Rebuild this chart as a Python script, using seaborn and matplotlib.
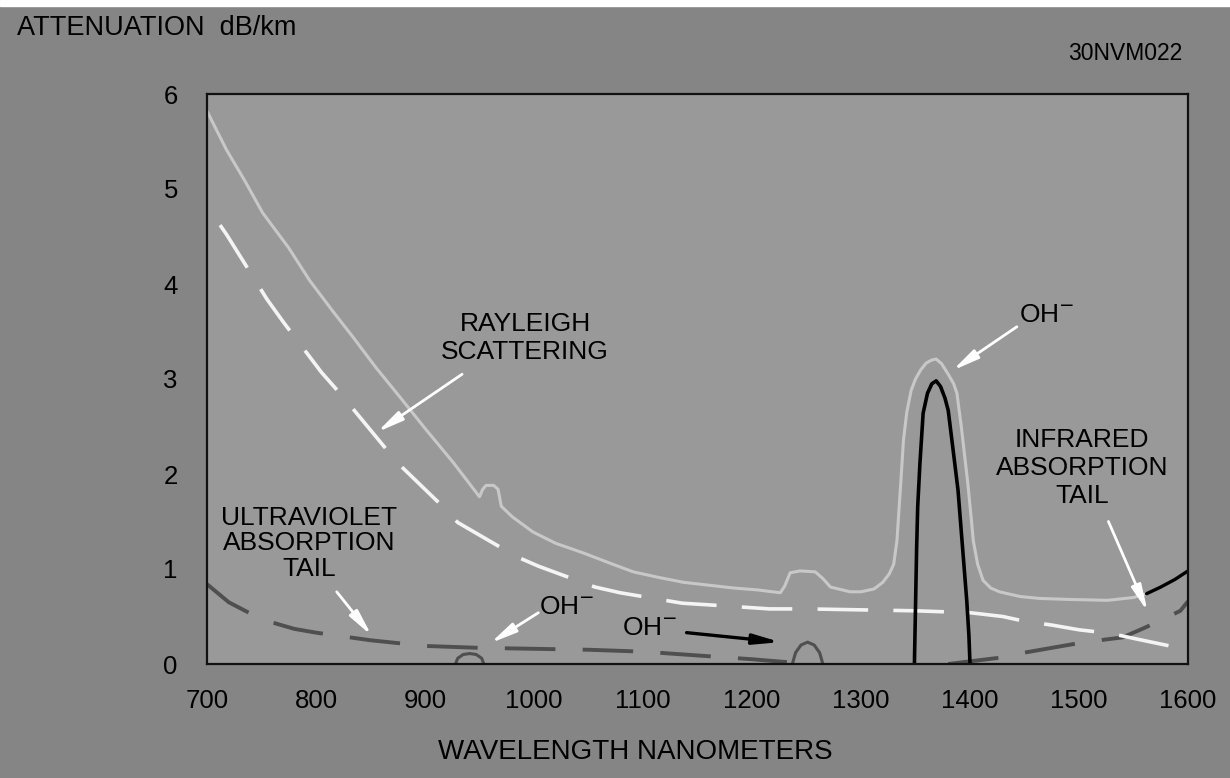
import numpy as np
import pandas as pd
import matplotlib
matplotlib.use("Agg")
import matplotlib.pyplot as plt
import seaborn as sns

# values (wavelength nm, attenuation dB/km)
total_wl = [700, 718, 735, 751, 775, 794, 815, 834, 855, 877, 900, 926, 950, 953,
            956, 963, 967, 970, 980, 999, 1020, 1045, 1070, 1091, 1115, 1137, 1160,
            1183, 1205, 1226, 1230, 1235, 1244, 1258, 1265, 1272, 1290, 1300, 1312,
            1320, 1326, 1330, 1333, 1335, 1337, 1339, 1342, 1346, 1350, 1355, 1360,
            1365, 1369, 1374, 1380, 1385, 1388, 1392, 1395, 1398, 1401, 1403, 1407,
            1412, 1419, 1427, 1446, 1464, 1490, 1526, 1550, 1562]
total_db = [5.82, 5.41, 5.08, 4.75, 4.38, 4.04, 3.72, 3.44, 3.12, 2.81, 2.48, 2.12, 1.76, 1.84,
            1.88, 1.88, 1.84, 1.66, 1.55, 1.39, 1.27, 1.17, 1.06, 0.97, 0.91, 0.86, 0.83,
            0.80, 0.78, 0.75, 0.82, 0.96, 0.98, 0.97, 0.90, 0.81, 0.76, 0.76, 0.79,
            0.86, 0.95, 1.05, 1.30, 1.65, 2.00, 2.36, 2.65, 2.88, 3.00, 3.10, 3.17,
            3.20, 3.21, 3.16, 3.05, 2.95, 2.85, 2.50, 2.20, 1.90, 1.55, 1.30, 1.05,
            0.88, 0.80, 0.76, 0.71, 0.69, 0.68, 0.67, 0.70, 0.74]

ir_end_wl = [1562, 1575, 1588, 1600]
ir_end_db = [0.74, 0.81, 0.89, 0.98]

rayleigh_wl = [712, 718, 755, 770, 805, 825, 866, 880, 917, 930, 984, 1004, 1056, 1079,
               1136, 1164, 1216, 1250, 1300, 1350, 1400, 1430, 1450, 1475, 1500, 1530,
               1550, 1575, 1600]
rayleigh_db = [4.62, 4.52, 3.84, 3.60, 3.07, 2.81, 2.24, 2.06, 1.65, 1.49, 1.13, 1.03, 0.81, 0.75,
               0.64, 0.62, 0.58, 0.58, 0.57, 0.56, 0.54, 0.50, 0.45, 0.41, 0.36, 0.32,
               0.27, 0.21, 0.15]

uv_wl = [700, 720, 750, 780, 800, 850, 900, 950, 1000, 1050, 1100, 1150, 1200, 1232]
uv_db = [0.84, 0.65, 0.47, 0.37, 0.33, 0.25, 0.19, 0.17, 0.16, 0.15, 0.13, 0.09, 0.05, 0.02]

ir_wl = [1380, 1430, 1450, 1485, 1505, 1540, 1560, 1577, 1593, 1600]
ir_db = [0.00, 0.07, 0.12, 0.19, 0.23, 0.28, 0.38, 0.47, 0.56, 0.66]

oh_wl = [1349, 1350, 1351, 1352, 1354, 1357, 1361, 1365, 1369, 1373, 1377, 1380, 1384,
         1389, 1393, 1397, 1399, 1400]
oh_db = [0.00, 0.60, 1.20, 1.65, 2.10, 2.64, 2.85, 2.95, 2.98, 2.92, 2.80, 2.67, 2.30,
         1.83, 1.25, 0.67, 0.30, 0.00]

oh940_wl = [928, 930, 935, 941, 947, 952, 954]
oh940_db = [0.00, 0.06, 0.10, 0.11, 0.10, 0.06, 0.00]

oh1250_wl = [1237, 1240, 1245, 1251, 1257, 1262, 1265]
oh1250_db = [0.00, 0.12, 0.20, 0.23, 0.20, 0.12, 0.00]

x_ticks = [700, 800, 900, 1000, 1100, 1200, 1300, 1400, 1500, 1600]
y_ticks = [0, 1, 2, 3, 4, 5, 6]

sns.set_theme(style="white")
plt.rcParams['font.family'] = ['Liberation Sans', 'DejaVu Sans']

fig = plt.figure(figsize=(12.3, 7.78), dpi=100, facecolor="#858585")
ax = fig.add_axes([207 / 1230, 114 / 778, 981 / 1230, 570 / 778])
ax.set_facecolor("#999999")

# white strip along the top edge of the scan
fig.patches.append(plt.Rectangle((0, 1 - 6 / 778), 1, 6 / 778, transform=fig.transFigure,
                                 color="white", zorder=0))

dash = (0, (13, 7))
sns.lineplot(x=uv_wl, y=uv_db, ax=ax, color="#4f4f4f", lw=2.8, linestyle=dash,
             estimator=None)
sns.lineplot(x=ir_wl, y=ir_db, ax=ax, color="#4f4f4f", lw=2.8, linestyle=dash,
             estimator=None)
sns.lineplot(x=oh940_wl, y=oh940_db, ax=ax, color="#4f4f4f", lw=2.2, estimator=None)
sns.lineplot(x=oh1250_wl, y=oh1250_db, ax=ax, color="#4f4f4f", lw=2.2, estimator=None)
sns.lineplot(x=rayleigh_wl, y=rayleigh_db, ax=ax, color="#f4f4f4", lw=2.6,
             linestyle=(0, (14, 7)), estimator=None)
sns.lineplot(x=total_wl, y=total_db, ax=ax, color="#c8c8c8", lw=2.2, estimator=None)
sns.lineplot(x=ir_end_wl, y=ir_end_db, ax=ax, color="black", lw=2.4, estimator=None)
sns.lineplot(x=oh_wl, y=oh_db, ax=ax, color="black", lw=2.6, estimator=None)

ax.set_xlim(700, 1600)
ax.set_ylim(0, 6)
ax.set_xticks(x_ticks)
ax.set_yticks(y_ticks)
ax.set_xticklabels([str(v) for v in x_ticks])
ax.set_yticklabels([str(v) for v in y_ticks])
ax.tick_params(axis="both", direction="in", length=14, width=1.6, color="black",
               labelsize=18.5, labelcolor="black")
ax.tick_params(axis="x", pad=18)
ax.tick_params(axis="y", pad=21)
for t, v in zip(ax.xaxis.get_major_ticks(), x_ticks):
    if v in (700, 1100, 1200, 1300, 1400, 1600):
        t.tick1line.set_visible(False)
for sp in ax.spines.values():
    sp.set_color("#111111")
    sp.set_linewidth(1.6)

ax.set_xlabel("")
ax.set_ylabel("")
fig.text(635 / 1230, 1 - 752 / 778, "WAVELENGTH NANOMETERS", ha="center", va="center",
         fontsize=20, color="black")
fig.text(17 / 1230, 1 - 28 / 778, "ATTENUATION  dB/km", ha="left", va="center",
         fontsize=19.5, color="black")
fig.text(1125 / 1230, 1 - 53 / 778, "30NVM022", ha="center", va="center",
         fontsize=16.5, color="black")

txt = dict(fontsize=19, color="black", ha="center", va="center", linespacing=1.2)
ax.text(992, 3.43, "RAYLEIGH\nSCATTERING", **txt)
ax.text(1503, 2.06, "INFRARED\nABSORPTION\nTAIL", **txt)
ax.text(794, 1.27, "ULTRAVIOLET\nABSORPTION\nTAIL", **dict(txt, linespacing=1.08))
ax.text(1470, 3.67, "OH$^{-}$", **txt)
ax.text(1030, 0.60, "OH$^{-}$", **txt)
ax.text(1106, 0.38, "OH$^{-}$", **txt)

white_arrow = dict(arrowstyle="-|>,head_length=1.3,head_width=0.25", color="white",
                   lw=2.0, shrinkA=0, shrinkB=0)
ax.annotate("", xy=(856, 2.44), xytext=(934, 3.05), arrowprops=white_arrow)
ax.annotate("", xy=(1384, 3.09), xytext=(1443, 3.55), arrowprops=white_arrow)
ax.annotate("", xy=(1563, 0.55), xytext=(1527, 1.50), arrowprops=white_arrow)
ax.annotate("", xy=(851, 0.30), xytext=(819, 0.76), arrowprops=white_arrow)
ax.annotate("", xy=(960, 0.22), xytext=(1004, 0.54), arrowprops=white_arrow)
ax.annotate("", xy=(1226, 0.23), xytext=(1140, 0.33),
            arrowprops=dict(arrowstyle="-|>,head_length=1.3,head_width=0.25",
                            color="black", lw=2.4, shrinkA=0, shrinkB=0))

fig.savefig("out.png", dpi=100, facecolor=fig.get_facecolor())
